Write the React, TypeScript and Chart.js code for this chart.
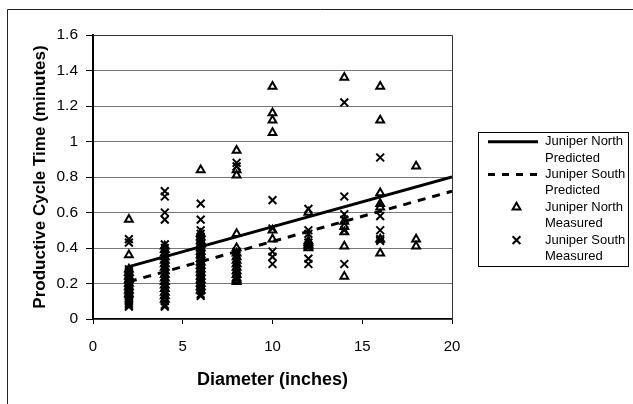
import { useEffect, useRef } from 'react';
import { Chart, registerables } from 'chart.js';

Chart.register(...registerables);

const xTicks = [0, 5, 10, 15, 20];
const yTicks = [0, 0.2, 0.4, 0.6, 0.8, 1.0, 1.2, 1.4, 1.6];

const predictedDiameters = [2, 20];
const northPredicted = [0.295, 0.8];
const southPredicted = [0.21, 0.72];

const northMeasuredDiameter = [
  2, 2, 2, 2, 2, 2, 2, 2, 2, 2,
  4, 4, 4, 4, 4, 4, 4, 4, 4, 4, 4, 4, 4, 4, 4, 4,
  6, 6, 6, 6, 6, 6, 6, 6, 6, 6, 6, 6, 6, 6, 6, 6, 6, 6,
  8, 8, 8, 8, 8, 8, 8, 8, 8, 8, 8, 8, 8, 8, 8,
  10, 10, 10, 10, 10, 10,
  12, 12, 12, 12, 12, 12,
  14, 14, 14, 14, 14, 14,
  16, 16, 16, 16, 16, 16, 16,
  18, 18, 18,
];
const northMeasuredTime = [
  0.56, 0.36, 0.28, 0.26, 0.24, 0.22, 0.2, 0.18, 0.16, 0.14,
  0.41, 0.39, 0.37, 0.35, 0.33, 0.31, 0.29, 0.27, 0.25, 0.23, 0.21, 0.19, 0.17, 0.15, 0.13, 0.11,
  0.84, 0.48, 0.46, 0.44, 0.42, 0.4, 0.38, 0.36, 0.34, 0.32, 0.3, 0.28, 0.26, 0.24, 0.22, 0.2, 0.18, 0.16,
  0.95, 0.84, 0.81, 0.48, 0.4, 0.37, 0.35, 0.33, 0.31, 0.29, 0.27, 0.25, 0.23, 0.22, 0.21,
  1.31, 1.16, 1.12, 1.05, 0.5, 0.45,
  0.6, 0.44, 0.43, 0.42, 0.41, 0.4,
  1.36, 0.55, 0.52, 0.49, 0.41, 0.24,
  1.31, 1.12, 0.71, 0.65, 0.63, 0.45, 0.37,
  0.86, 0.45, 0.41,
];

const southMeasuredDiameter = [
  2, 2, 2, 2, 2, 2, 2, 2, 2, 2, 2, 2, 2, 2, 2, 2, 2, 2, 2, 2, 2, 2, 2, 2,
  4, 4, 4, 4, 4, 4, 4, 4, 4, 4, 4, 4, 4, 4, 4, 4, 4, 4, 4, 4, 4, 4, 4,
  6, 6, 6, 6, 6, 6, 6, 6, 6, 6, 6, 6, 6, 6, 6, 6, 6, 6, 6, 6, 6, 6,
  8, 8, 8, 8, 8, 8, 8, 8, 8, 8,
  10, 10, 10, 10, 10,
  12, 12, 12, 12, 12, 12, 12,
  14, 14, 14, 14, 14, 14,
  16, 16, 16, 16, 16,
];
const southMeasuredTime = [
  0.45, 0.43, 0.28, 0.27, 0.26, 0.25, 0.24, 0.23, 0.22, 0.21, 0.2, 0.19, 0.18, 0.17, 0.16, 0.15, 0.14, 0.13, 0.12, 0.11, 0.1, 0.09, 0.08, 0.07,
  0.72, 0.69, 0.6, 0.56, 0.42, 0.4, 0.38, 0.36, 0.34, 0.32, 0.3, 0.28, 0.26, 0.24, 0.22, 0.2, 0.18, 0.16, 0.14, 0.12, 0.1, 0.08, 0.07,
  0.65, 0.56, 0.5, 0.48, 0.46, 0.44, 0.42, 0.4, 0.38, 0.36, 0.34, 0.32, 0.3, 0.28, 0.26, 0.24, 0.22, 0.2, 0.18, 0.16, 0.14, 0.13,
  0.88, 0.86, 0.38, 0.36, 0.34, 0.32, 0.3, 0.28, 0.26, 0.23,
  0.67, 0.51, 0.38, 0.35, 0.31,
  0.62, 0.5, 0.48, 0.43, 0.41, 0.34, 0.31,
  1.22, 0.69, 0.59, 0.56, 0.5, 0.31,
  0.91, 0.58, 0.5, 0.45, 0.44,
];

const seriesNames = [
  'Juniper North Predicted',
  'Juniper South Predicted',
  'Juniper North Measured',
  'Juniper South Measured',
];
const legendLines = [
  ['Juniper North', 'Predicted'],
  ['Juniper South', 'Predicted'],
  ['Juniper North', 'Measured'],
  ['Juniper South', 'Measured'],
];

const xTitle = 'Diameter (inches)';
const yTitle = 'Productive Cycle Time (minutes)';

const FONT = '"Liberation Sans", Arial, sans-serif';

function drawMarker(ctx: CanvasRenderingContext2D, style: string, x: number, y: number, r: number) {
  ctx.beginPath();
  if (style === 'triangle') {
    let rad = 0;
    ctx.moveTo(x + Math.sin(rad) * r, y - Math.cos(rad) * r);
    rad += (2 * Math.PI) / 3;
    ctx.lineTo(x + Math.sin(rad) * r, y - Math.cos(rad) * r);
    rad += (2 * Math.PI) / 3;
    ctx.lineTo(x + Math.sin(rad) * r, y - Math.cos(rad) * r);
    ctx.closePath();
  } else {
    const o = Math.cos(Math.PI / 4) * r;
    ctx.moveTo(x - o, y - o);
    ctx.lineTo(x + o, y + o);
    ctx.moveTo(x + o, y - o);
    ctx.lineTo(x - o, y + o);
  }
  ctx.stroke();
}

const framePlugin = {
  id: 'frame',
  beforeDraw(chart: any) {
    const { ctx, width, height } = chart;
    ctx.save();
    ctx.fillStyle = '#fff';
    ctx.fillRect(0, 0, width, height);
    ctx.restore();
  },
  afterDraw(chart: any) {
    const { ctx, chartArea: a } = chart;
    ctx.save();
    ctx.strokeStyle = '#333';
    ctx.lineWidth = 1;
    ctx.beginPath();
    ctx.moveTo(a.left, a.top + 0.5);
    ctx.lineTo(a.right + 0.5, a.top + 0.5);
    ctx.lineTo(a.right + 0.5, a.bottom);
    ctx.stroke();

    // outer frame
    ctx.strokeStyle = '#222';
    ctx.beginPath();
    ctx.moveTo(7.5, 404);
    ctx.lineTo(7.5, 9.5);
    ctx.lineTo(633, 9.5);
    ctx.stroke();

    // legend
    const bx = 478.5, by = 132.5, bw = 150, bh = 134;
    ctx.strokeStyle = '#000';
    ctx.lineWidth = 1;
    ctx.strokeRect(bx, by, bw, bh);
    const lineGap = 16.4;
    const firstY = 141.7;
    ctx.font = '13px ' + FONT;
    ctx.fillStyle = '#000';
    ctx.textBaseline = 'middle';
    ctx.textAlign = 'left';
    const ds = chart.data.datasets;
    legendLines.forEach((lines, i) => {
      const y0 = firstY + lineGap * 2 * i;
      lines.forEach((t, j) => ctx.fillText(t, 545, y0 + lineGap * j));
      const d = ds[i];
      ctx.strokeStyle = '#000';
      if (i < 2) {
        ctx.lineWidth = 3;
        ctx.setLineDash(i === 1 ? [7, 7] : []);
        ctx.beginPath();
        ctx.moveTo(488, y0);
        ctx.lineTo(538, y0);
        ctx.stroke();
        ctx.setLineDash([]);
      } else {
        ctx.lineWidth = d.borderWidth;
        drawMarker(ctx, d.pointStyle, 516.5, y0, d.pointRadius);
      }
    });
    ctx.restore();
  },
};

function pairs(xs: number[], ys: number[]) {
  return xs.map((x, i) => ({ x, y: ys[i] }));
}

export default function App() {
  const ref = useRef<HTMLCanvasElement>(null);
  useEffect(() => {
    Chart.defaults.font.family = FONT;
    Chart.defaults.color = '#000';
    const chart = new Chart(ref.current!, {
      type: 'scatter',
      data: {
        datasets: [
          {
            type: 'line',
            label: seriesNames[0],
            data: pairs(predictedDiameters, northPredicted),
            borderColor: '#000',
            borderWidth: 3,
            pointRadius: 0,
            fill: false,
            order: 0,
          },
          {
            type: 'line',
            label: seriesNames[1],
            data: pairs(predictedDiameters, southPredicted),
            borderColor: '#000',
            borderWidth: 3,
            borderDash: [8, 7],
            pointRadius: 0,
            fill: false,
            order: 1,
          },
          {
            label: seriesNames[2],
            data: pairs(northMeasuredDiameter, northMeasuredTime),
            pointStyle: 'triangle',
            pointRadius: 4.5,
            borderColor: '#000',
            backgroundColor: 'rgba(0,0,0,0)',
            borderWidth: 2,
            order: 2,
          },
          {
            label: seriesNames[3],
            data: pairs(southMeasuredDiameter, southMeasuredTime),
            pointStyle: 'crossRot',
            pointRadius: 5.5,
            borderColor: '#000',
            backgroundColor: '#000',
            borderWidth: 2,
            order: 3,
          },
        ] as any,
      },
      options: {
        animation: false,
        responsive: false,
        devicePixelRatio: 1,
        layout: { padding: { left: 0, right: 181, top: 35, bottom: 0 } },
        plugins: {
          legend: { display: false },
          tooltip: { enabled: false },
        },
        scales: {
          x: {
            type: 'linear',
            min: 0,
            max: 20,
            afterBuildTicks: (s: any) => {
              s.ticks = xTicks.map((v) => ({ value: v }));
            },
            afterFit: (s: any) => {
              s.height = 85;
            },
            ticks: {
              font: { size: 15 },
              color: '#000',
              padding: 14,
              maxRotation: 0,
              callback: (v: any) => String(v),
            },
            grid: {
              drawOnChartArea: false,
              drawTicks: true,
              tickLength: 5,
              tickColor: '#000',
            },
            border: { display: true, color: '#000', width: 1.5 },
            title: {
              display: true,
              text: xTitle,
              font: { size: 18, weight: 'bold' },
              color: '#000',
              padding: { top: 0, bottom: 13 },
            },
          },
          y: {
            type: 'linear',
            min: 0,
            max: 1.6,
            afterBuildTicks: (s: any) => {
              s.ticks = yTicks.map((v) => ({ value: v }));
            },
            afterFit: (s: any) => {
              s.width = 93;
            },
            ticks: {
              font: { size: 15.5 },
              color: '#000',
              padding: 8,
              callback: (v: any) => String(Number(Number(v).toFixed(1))),
            },
            grid: {
              color: '#777',
              lineWidth: 1,
              drawTicks: true,
              tickLength: 7,
              tickColor: '#000',
            },
            border: { display: true, color: '#000', width: 2 },
            title: {
              display: true,
              text: yTitle,
              font: { size: 17, weight: 'bold' },
              color: '#000',
              padding: { top: 30, bottom: 0 },
            },
          },
        },
      },
      plugins: [framePlugin],
    } as any);
    return () => chart.destroy();
  }, []);
  return (
    <div style={{ position: 'fixed', left: 0, top: 0, width: 633, height: 404, background: '#fff' }}>
      <canvas ref={ref} width={633} height={404} style={{ display: 'block', width: 633, height: 404 }} />
    </div>
  );
}
